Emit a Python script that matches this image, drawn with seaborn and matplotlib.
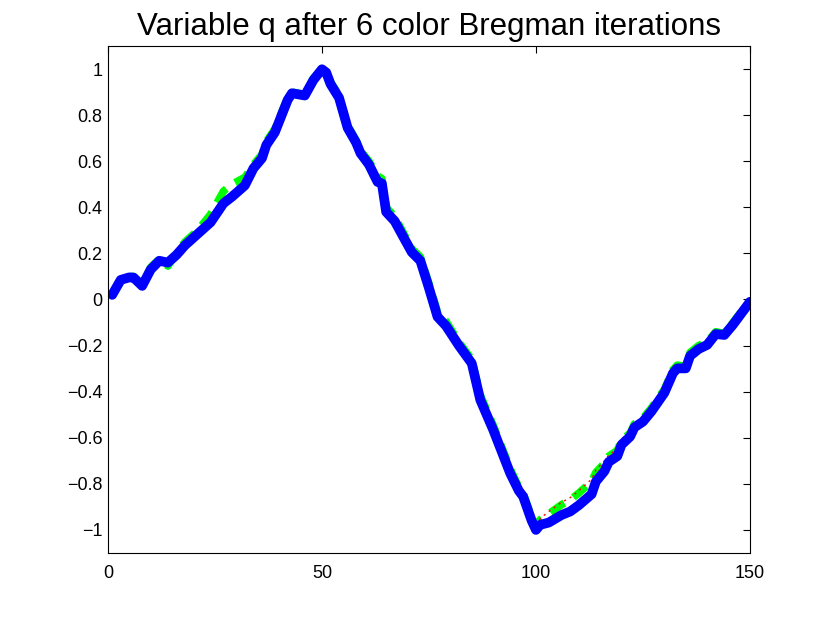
import numpy as np
import pandas as pd
import matplotlib
matplotlib.use("Agg")
import matplotlib.pyplot as plt
import seaborn as sns

# sample positions
xs = [1, 3, 5, 6, 8, 10, 12, 14, 16, 18, 21, 24, 27, 29, 32, 34, 36, 37, 39,
      42, 43, 46, 48, 50, 51, 52, 54, 56, 58, 59, 61, 63, 64, 65, 67, 69, 71,
      73, 75, 77, 79, 82, 85, 87, 90, 92, 94, 96, 97, 99, 100, 101, 103, 106,
      108, 110, 113, 114, 116, 117, 119, 120, 122, 123, 125, 127, 130, 132,
      133, 135, 136, 138, 140, 142, 144, 146, 148, 150]

# blue solid curve (final iterate)
q_blue = [0.02, 0.085, 0.096, 0.095, 0.059, 0.13, 0.168, 0.16, 0.193, 0.235,
          0.285, 0.335, 0.417, 0.446, 0.495, 0.569, 0.613, 0.67, 0.725, 0.866,
          0.895, 0.885, 0.952, 0.999, 0.985, 0.935, 0.875, 0.745, 0.68, 0.635,
          0.585, 0.51, 0.504, 0.38, 0.34, 0.272, 0.205, 0.168, 0.05, -0.075,
          -0.115, -0.2, -0.277, -0.436, -0.565, -0.66, -0.755, -0.83, -0.855,
          -0.96, -1.0, -0.978, -0.968, -0.935, -0.92, -0.893, -0.845, -0.79,
          -0.745, -0.705, -0.68, -0.63, -0.595, -0.555, -0.53, -0.485, -0.405,
          -0.32, -0.299, -0.299, -0.245, -0.215, -0.197, -0.15, -0.154, -0.11,
          -0.06, -0.01]

# green dashed curve
q_green = [0.025, 0.09, 0.1, 0.1, 0.065, 0.14, 0.175, 0.145, 0.2, 0.25,
           0.3, 0.37, 0.47, 0.5, 0.53, 0.585, 0.63, 0.685, 0.74, 0.875,
           0.9, 0.89, 0.96, 1.0, 0.99, 0.945, 0.885, 0.755, 0.69, 0.645,
           0.6, 0.535, 0.525, 0.4, 0.36, 0.29, 0.22, 0.185, 0.07, -0.055,
           -0.095, -0.185, -0.26, -0.415, -0.545, -0.64, -0.735, -0.815, -0.84,
           -0.945, -0.985, -0.955, -0.93, -0.89, -0.87, -0.84, -0.79, -0.75,
           -0.71, -0.68, -0.655, -0.61, -0.58, -0.54, -0.515, -0.47, -0.39,
           -0.305, -0.285, -0.29, -0.23, -0.2, -0.185, -0.14, -0.148, -0.1,
           -0.052, -0.005]

# red dotted curve
q_red = [0.015, 0.08, 0.092, 0.09, 0.055, 0.125, 0.16, 0.155, 0.188, 0.228,
         0.278, 0.33, 0.44, 0.46, 0.505, 0.57, 0.615, 0.672, 0.728, 0.868,
         0.885, 0.872, 0.95, 0.998, 0.982, 0.935, 0.87, 0.74, 0.675, 0.628,
         0.578, 0.51, 0.5, 0.37, 0.335, 0.265, 0.2, 0.16, 0.045, -0.08,
         -0.12, -0.205, -0.28, -0.44, -0.57, -0.665, -0.76, -0.835, -0.86,
         -0.965, -1.0, -0.95, -0.92, -0.88, -0.86, -0.83, -0.78, -0.74,
         -0.7, -0.675, -0.65, -0.605, -0.575, -0.54, -0.52, -0.48, -0.4,
         -0.325, -0.305, -0.31, -0.25, -0.22, -0.205, -0.16, -0.165, -0.115,
         -0.065, -0.015]

yticks = [-1, -0.8, -0.6, -0.4, -0.2, 0, 0.2, 0.4, 0.6, 0.8, 1]
ytick_labels = ["\u22121", "\u22120.8", "\u22120.6", "\u22120.4", "\u22120.2",
                "0", "0.2", "0.4", "0.6", "0.8", "1"]
xticks = [0, 50, 100, 150]

df = pd.DataFrame({"x": xs, "blue": q_blue, "green": q_green, "red": q_red})

sns.set_style("white")
plt.rcParams['font.family'] = ['Liberation Sans', 'DejaVu Sans']
plt.rcParams['text.color'] = 'black'

fig = plt.figure(figsize=(8.3, 6.23), dpi=100)
ax = fig.add_axes([0.130, 0.1124, 0.7736, 0.8138])

sns.lineplot(data=df, x="x", y="green", ax=ax, color="#00ff00",
             linewidth=5.5, linestyle=(0, (2.2, 1.4)), solid_capstyle="butt")
sns.lineplot(data=df, x="x", y="red", ax=ax, color="#ff0000",
             linewidth=1, linestyle=(0, (1.5, 3)))
sns.lineplot(data=df, x="x", y="blue", ax=ax, color="#0000ff",
             linewidth=7, solid_capstyle="round", solid_joinstyle="round")

ax.set_xlim(0, 150)
ax.set_ylim(-1.1, 1.1)
ax.set_xticks(xticks)
ax.set_xticklabels([str(t) for t in xticks])
ax.set_yticks(yticks)
ax.set_yticklabels(ytick_labels)
ax.set_xlabel("")
ax.set_ylabel("")
ax.tick_params(direction="in", length=5, width=0.8, labelsize=13,
               top=True, right=True, colors="black", labelcolor="black")
ax.tick_params(axis="x", pad=9)
ax.tick_params(axis="y", pad=4)
for s in ax.spines.values():
    s.set_visible(True)
    s.set_color("black")
    s.set_linewidth(0.8)
ax.set_title("Variable q after 6 color Bregman iterations", fontsize=22.5,
             pad=8, color="black")

fig.savefig("out.png", dpi=100)
